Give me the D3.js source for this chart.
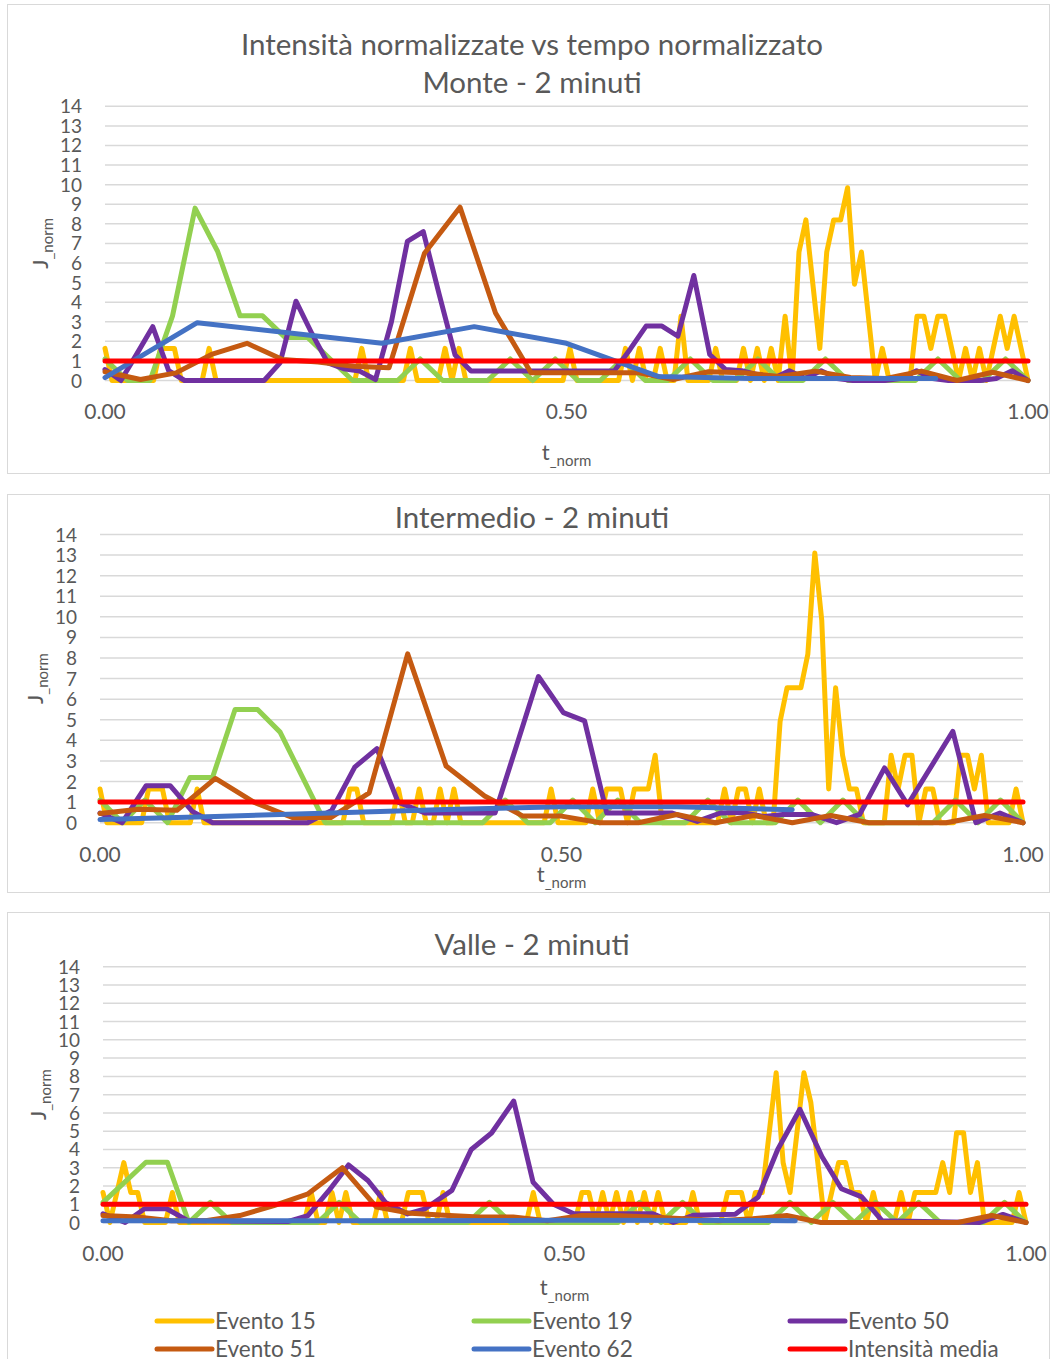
<!DOCTYPE html>
<html lang="it">
<head>
<meta charset="UTF-8">
<title>Intensità normalizzate vs tempo normalizzato</title>
<script src="https://d3js.org/d3.v7.min.js"></script>
<style>
  body { margin: 0; background: #fff; font-family: Lato, "Open Sans", sans-serif; }
  svg text { fill: #595959; }
</style>
</head>
<body>
<svg id="chart" width="1056" height="1359"></svg>
<script>
// --- labels / ticks ---
const yTicks = [0, 1, 2, 3, 4, 5, 6, 7, 8, 9, 10, 11, 12, 13, 14];
const xTicks = [0, 0.5, 1];
const seriesNames = ["Evento 15", "Evento 19", "Evento 50", "Evento 51", "Evento 62", "Intensità media"];
const seriesColors = ["#FFC000", "#92D050", "#7030A0", "#C55A11", "#4472C4", "#FF0000"];
const panelTitles = [
    ["Intensità normalizzate vs tempo normalizzato", "Monte - 2 minuti"],
    ["Intermedio - 2 minuti"],
    ["Valle - 2 minuti"]
];
const mediaLine = [[0, 1], [1, 1]];

// --- Monte: evenly sampled series (t = i/(n-1)) ---
const monte15 = [
    1.64,0,0,0,0,0,0,0,1.64,1.64,1.64,0,0,0,0,1.64,0,0,0,0,
    0,0,0,0,0,0,0,0,0,0,0,0,0,0,0,0,0,1.64,0,0,
    0,0,0,0,1.64,0,0,0,0,1.64,0,1.64,0,0,0,0,0,0,0,0,
    0,0,0,0,0,0,0,1.64,0,0,0,0,0,0,0,1.64,0,1.64,0,0,
    1.64,0,0,3.28,0,0,0,0,1.64,0,0,0,1.64,0,1.64,0,1.64,0,3.28,0,
    6.56,8.2,4.92,1.64,6.56,8.2,8.2,9.84,4.92,6.56,3.28,0,1.64,0,0,0,0,3.28,3.28,1.64,
    3.28,3.28,1.64,0,1.64,0,1.64,0,1.64,3.28,1.64,3.28,1.64,0
];
const monte19 = [
    1.1,0,0,3.3,8.8,6.6,3.3,3.3,2.2,2.2,
    1.1,0,0,0,1.1,0,0,0,1.1,0,
    1.1,0,0,1.1,0,0,1.1,0,0,1.1,
    0,0,1.1,0,0,0,0,1.1,0,0,
    1.1,0
];
const monte50 = [
    0.56,0,1.36,2.75,0.5,0,0,0,0,0,
    0,0.9,4.05,2.4,0.9,0.6,0.48,0.05,3.0,7.1,
    7.6,4.4,1.3,0.48,0.48,0.48,0.48,0.48,0.48,0.48,
    0.48,0.48,0.48,1.6,2.78,2.78,2.26,5.36,1.33,0.56,
    0.5,0.3,0.1,0.5,0.1,0.5,0.1,0,0,0,
    0.1,0.5,0.1,0,0,0,0.1,0.5,0
];
const monte51 = [0.45,0.05,0.39,1.33,1.9,1.07,0.95,0.73,0.65,6.5,8.85,3.45,0.4,0.4,0.4,0.4,0.05,0.45,0.4,0.2,0.48,0.15,0.1,0.48,0,0.42,0];
// [t, J]
const monte62 = [[0,0.15],[0.1,2.95],[0.3,1.9],[0.4,2.75],[0.5,1.9],[0.6,0.2],[0.7,0.1],[0.8,0.1],[0.9,0.1]];

// --- Intermedio ---
const inter15 = [
    1.64,0,0,0,0,0,0,1.64,1.64,1.64,0,0,0,0,1.64,0,0,0,0,0,
    0,0,0,0,0,0,0,0,0,0,0,0,0,0,0,0,1.64,1.64,0,0,
    0,0,0,1.64,0,0,1.64,0,0,1.64,0,1.64,0,0,0,0,0,0,0,0,
    0,0,0,0,0,1.64,0,0,0,0,0,1.64,0,1.64,1.64,1.64,0,1.64,1.64,1.64,
    3.28,0,0,0,0,0,0,0,0,0,1.64,0,1.64,1.64,0,1.64,0,0,4.92,6.56,
    6.56,6.56,8.2,13.1,9.84,1.64,6.56,3.28,1.64,1.64,0,0,0,0,3.28,1.64,3.28,3.28,0,1.64,
    1.64,0,0,0,3.28,3.28,1.64,3.28,0,0,0,0,1.64,0
];
const inter19 = [
    1.1,0,1.1,0,2.2,2.2,5.5,5.5,4.4,2.2,
    0,0,0,0,0,0,0,0,1.1,0,
    0,1.1,0,1.1,0,0,0,1.1,0,0,
    0,1.1,0,1.1,0,0,0,0,1.1,0,
    1.1,0
];
const inter50 = [[0,0.47],[0.024,0],[0.05,1.8],[0.076,1.8],[0.1,0.55],[0.122,0],[0.225,0],[0.251,0.6],[0.276,2.7],[0.3,3.6],[0.323,1.0],[0.352,0.47],[0.428,0.47],[0.451,3.7],[0.475,7.1],[0.502,5.35],[0.525,4.95],[0.549,0.47],[0.62,0.47],[0.647,0.06],[0.672,0.47],[0.695,0.5],[0.72,0.3],[0.74,0.4],[0.771,0.4],[0.798,0],[0.823,0.4],[0.85,2.66],[0.875,0.87],[0.924,4.44],[0.949,0],[0.975,0.47],[1,0]];
const inter51 = [0.45,0.65,0.6,2.15,1.0,0.25,0.25,1.45,8.2,2.75,1.3,0.32,0.32,0,0,0.4,0,0.35,0,0.35,0,0,0,0.35,0];
const inter62 = [[0,0.15],[0.125,0.3],[0.25,0.47],[0.375,0.64],[0.5,0.78],[0.625,0.78],[0.75,0.63]];

// --- Valle ---
const valle15 = [
    1.64,0,1.64,3.28,1.64,1.64,0,0,0,0,1.64,0,0,0,0,0,0,0,0,0,
    0,0,0,0,0,0,0,0,0,0,1.64,0,0,1.64,0,1.64,0,0,0,0,
    1.64,0,0,0,1.64,1.64,1.64,0,0,1.64,0,0,0,0,0,0,0,0,0,0,
    0,0,1.64,0,0,0,0,0,0,1.64,1.64,0,1.64,0,1.64,0,1.64,0,1.64,0,
    1.64,0,0,0,0,1.64,0,0,0,0,1.64,1.64,1.64,0,1.64,1.64,4.92,8.2,3.28,1.64,
    4.92,8.2,6.56,3.28,0,1.64,3.28,3.28,1.64,1.64,0,1.64,0,0,0,1.64,0,1.64,1.64,1.64,
    1.64,3.28,1.64,4.92,4.92,1.64,3.28,0,0,0,0,0,1.64,0
];
const valle19 = [
    1.1,2.2,3.3,3.3,0,1.1,0,0,0,0,
    0,1.1,0,0,0,0,0,0,1.1,0,
    0,0,0,0,0,1.1,0,1.1,0,0,
    0,0,1.1,0,1.1,0,1.1,0,1.1,0,
    0,0,1.1,0
];
const valle50 = [[0,0.48],[0.024,0],[0.045,0.75],[0.069,0.75],[0.092,0.1],[0.2,0.05],[0.222,0.38],[0.244,1.7],[0.266,3.15],[0.287,2.3],[0.306,1.1],[0.33,0.47],[0.349,0.75],[0.378,1.76],[0.399,4.0],[0.421,4.9],[0.445,6.65],[0.466,2.2],[0.488,1.0],[0.51,0.48],[0.596,0.48],[0.618,0],[0.64,0.4],[0.685,0.45],[0.71,1.4],[0.731,4.0],[0.755,6.2],[0.779,3.6],[0.8,1.85],[0.822,1.4],[0.844,0.1],[0.95,0],[0.975,0.44],[1,0]];
const valle51 = [0.38,0.3,0.1,0.1,0.38,0.93,1.57,3.0,0.84,0.5,0.4,0.3,0.3,0.1,0.38,0.38,0.3,0.2,0.1,0.2,0.38,0,0,0,0,0,0.38,0];
const valle62 = [[0,0.1],[0.25,0.1],[0.5,0.12],[0.75,0.1]];

const even = vals => vals.map((v, i) => [i / (vals.length - 1), v]);

const panels = [
    { box: [7, 4, 1049, 473], x0: 105, x1: 1028, yBot: 380.5, yTop: 106.3,
      titleY: [55, 93], xLabelY: 419, xTitleY: 460, yTitleX: 48,
      series: [even(monte15), even(monte19), even(monte50), even(monte51), monte62, mediaLine] },
    { box: [7, 494, 1049, 892], x0: 100, x1: 1023, yBot: 822.7, yTop: 534.5,
      titleY: [528], xLabelY: 862, xTitleY: 882, yTitleX: 43,
      series: [even(inter15), even(inter19), inter50, even(inter51), inter62, mediaLine] },
    { box: [7, 912, 1049, 1380], x0: 103, x1: 1026, yBot: 1222.5, yTop: 966.8,
      titleY: [955], xLabelY: 1261, xTitleY: 1295, yTitleX: 46,
      series: [even(valle15), even(valle19), valle50, even(valle51), valle62, mediaLine] }
];

const svg = d3.select("#chart");

panels.forEach((p, pi) => {
    const g = svg.append("g");
    const [bx0, by0, bx1, by1] = p.box;

    g.append("rect")
        .attr("x", bx0 + 0.5).attr("y", by0 + 0.5)
        .attr("width", bx1 - bx0).attr("height", by1 - by0)
        .attr("fill", "#fff").attr("stroke", "#d9d9d9").attr("stroke-width", 1);

    const x = d3.scaleLinear().domain([0, 1]).range([p.x0, p.x1]);
    const y = d3.scaleLinear().domain([0, 14]).range([p.yBot, p.yTop]);

    // gridlines
    g.append("g").selectAll("line").data(yTicks).join("line")
        .attr("x1", p.x0).attr("x2", p.x1)
        .attr("y1", d => y(d)).attr("y2", d => y(d))
        .attr("stroke", "#d9d9d9").attr("stroke-width", 1.5);

    // y tick labels
    g.append("g").selectAll("text").data(yTicks).join("text")
        .attr("x", p.x0 - 23).attr("y", d => y(d) + 7)
        .attr("text-anchor", "end")
        .style("font-size", "19px")
        .text(d => d);

    // x tick labels
    g.append("g").selectAll("text").data(xTicks).join("text")
        .attr("x", d => x(d)).attr("y", p.xLabelY)
        .attr("text-anchor", "middle")
        .style("font-size", "21px")
        .text(d => d3.format(".2f")(d));

    // titles
    panelTitles[pi].forEach((t, i) => {
        g.append("text")
            .attr("x", 532).attr("y", p.titleY[i])
            .attr("text-anchor", "middle")
            .style("font-size", "29.5px")
            .text(t);
    });

    // x axis title
    const xt = g.append("text")
        .attr("x", x(0.5)).attr("y", p.xTitleY)
        .attr("text-anchor", "middle")
        .style("font-size", "22px");
    xt.append("tspan").text("t");
    xt.append("tspan").attr("dy", 6).style("font-size", "15px").text("_norm");

    // y axis title
    const yc = (p.yBot + p.yTop) / 2;
    const yt = g.append("text")
        .attr("transform", `translate(${p.yTitleX},${yc}) rotate(-90)`)
        .attr("text-anchor", "middle")
        .style("font-size", "22px");
    yt.append("tspan").text("J");
    yt.append("tspan").attr("dy", 5).style("font-size", "15px").text("_norm");

    // series
    const line = d3.line().x(d => x(d[0])).y(d => y(d[1]));
    p.series.forEach((pts, si) => {
        g.append("path")
            .datum(pts)
            .attr("d", line)
            .attr("fill", "none")
            .attr("stroke", seriesColors[si])
            .attr("stroke-width", 5)
            .attr("stroke-linejoin", "round")
            .attr("stroke-linecap", "round");
    });
});

// legend
const legendCols = [157, 474, 790];
const legendRows = [1321, 1349];
const legend = svg.append("g");
seriesNames.forEach((name, i) => {
    const lx = legendCols[i % 3];
    const ly = legendRows[Math.floor(i / 3)];
    legend.append("line")
        .attr("x1", lx).attr("x2", lx + 55)
        .attr("y1", ly).attr("y2", ly)
        .attr("stroke", seriesColors[i])
        .attr("stroke-width", 5)
        .attr("stroke-linecap", "round");
    legend.append("text")
        .attr("x", lx + 58).attr("y", ly + 8)
        .style("font-size", "22.5px")
        .text(name);
});
</script>
</body>
</html>
